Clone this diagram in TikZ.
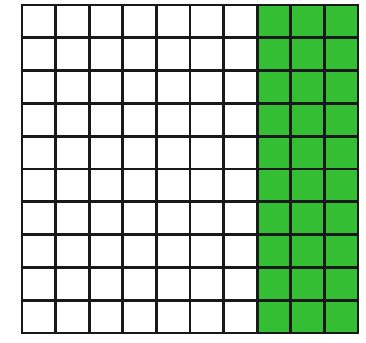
\documentclass[tikz,border=0pt]{standalone}
\definecolor{gridgreen}{RGB}{52,190,52}
\begin{document}
\begin{tikzpicture}[x=1pt,y=-1pt,gridline/.style={line width=2.9pt,black!90,line cap=rect}]
\useasboundingbox (0,0) rectangle (366,342);
\fill[gridgreen] (257.2,5) rectangle (358,333);
\foreach \i in {0,...,10} {
  \draw[gridline] ({22+\i*33.6},5) -- ({22+\i*33.6},333);
  \draw[gridline] (22,{5+\i*32.8}) -- (358,{5+\i*32.8});
}
\end{tikzpicture}
\end{document}
